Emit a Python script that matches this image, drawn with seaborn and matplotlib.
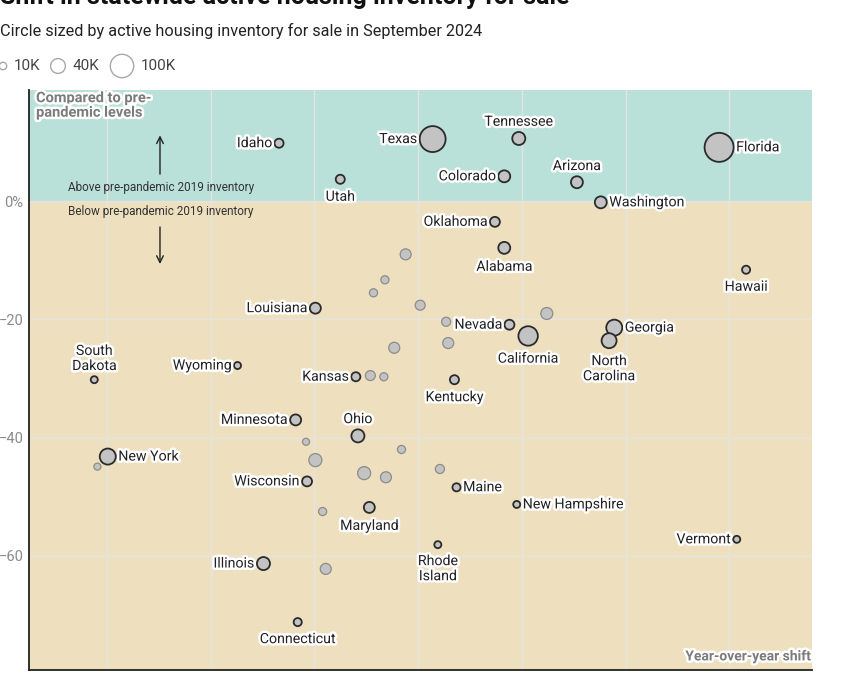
import matplotlib
matplotlib.use("Agg")
import numpy as np
import pandas as pd
import seaborn as sns
import matplotlib.pyplot as plt
import matplotlib.patheffects as pe

# ---------------- data ----------------
labeled_states = ["Idaho", "Texas", "Tennessee", "Florida", "Utah", "Colorado", "Arizona",
                  "Washington", "Oklahoma", "Alabama", "Hawaii", "Louisiana", "Nevada",
                  "California", "Georgia", "North\nCarolina", "South\nDakota", "Wyoming",
                  "Kansas", "Kentucky", "Minnesota", "Ohio", "New York", "Wisconsin", "Maine",
                  "New Hampshire", "Maryland", "Vermont", "Rhode\nIsland", "Illinois",
                  "Connecticut"]
labeled_yoy = [16.6, 31.4, 39.7, 59.0, 22.5, 38.3, 45.3,
               47.6, 37.4, 38.3, 61.6, 20.1, 38.8,
               40.6, 48.9, 48.4, -1.2, 12.6,
               24.0, 33.5, 18.2, 24.2, 0.1, 19.3, 33.7,
               39.5, 25.3, 60.7, 31.9, 15.1,
               18.4]
labeled_vs2019 = [9.8, 10.5, 10.6, 9.1, 3.7, 4.2, 3.2,
                  -0.2, -3.5, -7.9, -11.6, -18.1, -20.9,
                  -22.8, -21.4, -23.6, -30.2, -27.8,
                  -29.7, -30.2, -37.0, -39.7, -43.2, -47.4, -48.4,
                  -51.3, -51.8, -57.2, -58.1, -61.3,
                  -71.2]
labeled_inventory_k = [15, 123, 31, 154, 15, 26, 26,
                       26, 18, 26, 12, 22, 18,
                       69, 47, 41, 9, 9,
                       15, 15, 22, 31, 47, 18, 12,
                       9, 22, 9, 9, 31,
                       12]
label_side = ["l", "l", "t", "r", "b", "l", "t",
              "r", "l", "b", "b", "l", "l",
              "b", "r", "b", "t", "l",
              "l", "b", "l", "t", "r", "l", "r",
              "r", "b", "l", "b", "l",
              "b"]

other_yoy = [28.8, 26.8, 25.7, 30.2, 32.7, 42.4, 32.9, 27.7, 25.4, 26.7,
             19.2, 20.1, 24.8, 26.9, 28.4, 32.1, 20.8, 21.1, -0.9]
other_vs2019 = [-9.0, -13.3, -15.5, -17.6, -20.4, -19.0, -24.0, -24.8, -29.5, -29.7,
                -40.7, -43.8, -46.0, -46.7, -42.0, -45.3, -52.5, -62.2, -44.9]
other_inventory_k = [22, 12, 12, 18, 15, 26, 22, 22, 18, 12,
                     9, 31, 31, 22, 12, 15, 12, 22, 9]

legend_values_k = [10, 40, 100]
legend_labels = ["10K", "40K", "100K"]
y_ticks = [0, -20, -40, -60]
y_ticklabels = ["0%", "\u221220", "\u221240", "\u221260"]
x_grid = [0, 10, 20, 30, 40, 50, 60]

title = "Shift in statewide active housing inventory for sale"
subtitle = "Circle sized by active housing inventory for sale in September 2024"

# ---------------- style ----------------
sns.set_theme(style="white")
plt.rcParams["font.family"] = ["Roboto", "DejaVu Sans"]

TEAL = "#bae0da"
TAN = "#eee0bf"
FILL = "#c3c3c3"
SIZE_NORM = (0, 160)
S_PER_K = 2.84            # pt^2 per thousand listings (area ~ value)
SIZES = (0, S_PER_K * SIZE_NORM[1])
XLIM = (-7.49, 67.95)
YLIM = (-79.3, 18.8)

W, H = 841, 675
fig = plt.figure(figsize=(W / 100, H / 100), dpi=100)
fig.patch.set_facecolor("white")
ax = fig.add_axes([29 / W, 5 / H, 783 / W, 580 / H])

lab = pd.DataFrame({"state": labeled_states, "yoy": labeled_yoy,
                    "vs2019": labeled_vs2019, "inventory": labeled_inventory_k,
                    "side": label_side})
oth = pd.DataFrame({"yoy": other_yoy, "vs2019": other_vs2019,
                    "inventory": other_inventory_k})

ax.set_xlim(*XLIM)
ax.set_ylim(*YLIM)
ax.axhspan(0, YLIM[1], color=TEAL, zorder=0, lw=0)
ax.axhspan(YLIM[0], 0, color=TAN, zorder=0, lw=0)
ax.set_axisbelow(True)
ax.set_xticks(x_grid)
ax.set_yticks(y_ticks)
ax.set_yticklabels(y_ticklabels)
ax.grid(True, color="#e4e4e0", lw=1.0, zorder=0.5)
ax.tick_params(axis="x", length=0, labelbottom=False)
ax.tick_params(axis="y", length=0, labelsize=10.5, labelcolor="#8a8a8a", pad=4)
for s in ["top", "right"]:
    ax.spines[s].set_visible(False)
for s in ["left", "bottom"]:
    ax.spines[s].set_color("#222222")
    ax.spines[s].set_linewidth(1.3)

sns.scatterplot(data=oth, x="yoy", y="vs2019", size="inventory", sizes=SIZES,
                size_norm=SIZE_NORM, color=FILL, edgecolor="#8c8c8c", linewidth=0.9,
                legend=False, ax=ax, zorder=3)
sns.scatterplot(data=lab, x="yoy", y="vs2019", size="inventory", sizes=SIZES,
                size_norm=SIZE_NORM, color=FILL, edgecolor="#2b2b2b", linewidth=1.3,
                legend=False, ax=ax, zorder=4)
ax.set_xlabel("")
ax.set_ylabel("")

stroke = [pe.withStroke(linewidth=3.5, foreground="white")]
for _, row in lab.iterrows():
    r = np.sqrt(S_PER_K * row["inventory"]) / 2 + 1.8
    side = row["side"]
    if side == "l":
        off, ha, va = (-r, 0), "right", "center"
    elif side == "r":
        off, ha, va = (r, 0), "left", "center"
    elif side == "t":
        off, ha, va = (0, r + 0.5), "center", "bottom"
    else:
        off, ha, va = (0, -r - 2.5), "center", "top"
    ax.annotate(row["state"], (row["yoy"], row["vs2019"]), xytext=off,
                textcoords="offset points", ha=ha, va=va, fontsize=10.2,
                color="#222222", linespacing=1.1, path_effects=stroke, zorder=6)

# in-plot annotations
ax.text(-6.81, 18.6, "Compared to pre-\npandemic levels", ha="left", va="top",
        fontsize=10.5, fontweight="bold", color="#7b7b7b", linespacing=1.05,
        path_effects=stroke, zorder=6)
ax.text(67.85, -77.0, "Year-over-year shift", ha="right", va="center",
        fontsize=10, fontweight="bold", color="#7b7b7b", path_effects=stroke, zorder=6)
ax.text(-3.73, 2.39, "Above pre-pandemic 2019 inventory", ha="left", va="center",
        fontsize=8.5, color="#333333", zorder=6)
ax.text(-3.73, -1.68, "Below pre-pandemic 2019 inventory", ha="left", va="center",
        fontsize=8.5, color="#333333", zorder=6)
ax.annotate("", xy=(5.13, 11.6), xytext=(5.13, 4.1),
            arrowprops=dict(arrowstyle="->", color="#222222", lw=1.0), zorder=6)
ax.annotate("", xy=(5.13, -11.1), xytext=(5.13, -3.9),
            arrowprops=dict(arrowstyle="->", color="#222222", lw=1.0), zorder=6)

# title (cropped at top) and subtitle
fig.text(0.0, 1 - 4 / H, title, ha="left", va="baseline", fontsize=18,
         fontweight="bold", color="#111111")
fig.text(0.0, 1 - 31 / H, subtitle, ha="left", va="center", fontsize=11.7,
         color="#222222")

# size legend
lax = fig.add_axes([0, (H - 82) / H, 1, 32 / H])
lax.set_xlim(0, W)
lax.set_ylim(0, 32)
lax.axis("off")
leg = pd.DataFrame({"v": legend_values_k, "x": [3, 58, 122], "y": [16, 16, 16]})
sns.scatterplot(data=leg, x="x", y="y", size="v", sizes=SIZES, size_norm=SIZE_NORM,
                color="white", edgecolor="#a8a8a8", linewidth=1.0, legend=False, ax=lax)
for lbl, x in zip(legend_labels, [14, 73, 141]):
    lax.text(x, 16, lbl, ha="left", va="center", fontsize=11, color="#444444")
lax.set_xlabel("")
lax.set_ylabel("")

fig.savefig("out.png", dpi=100)
